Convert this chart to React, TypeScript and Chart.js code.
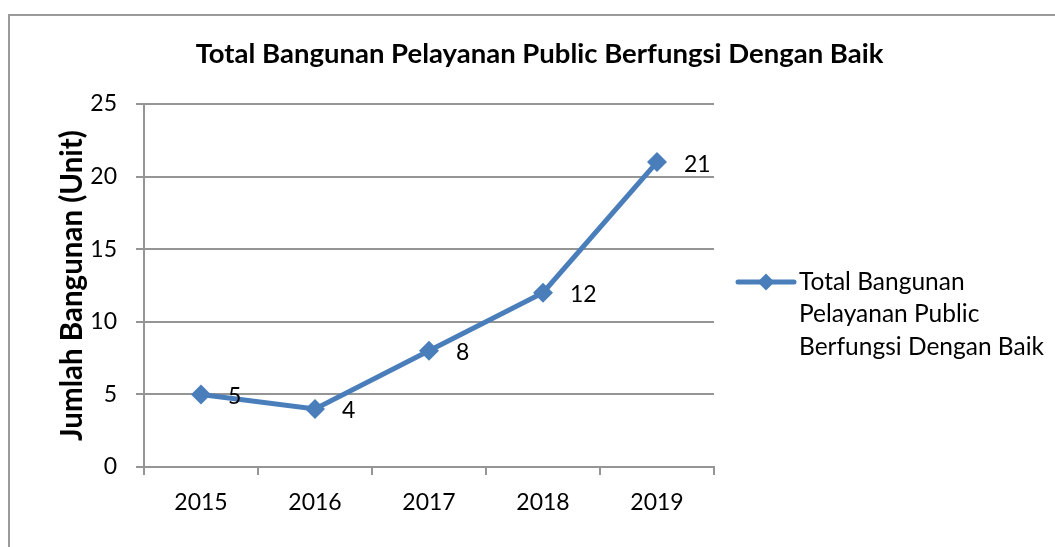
import React, { useEffect, useRef } from "react";
import { Chart, registerables } from "chart.js";

Chart.register(...registerables);

const categories = ["2015", "2016", "2017", "2018", "2019"];
const seriesValues = [5, 4, 8, 12, 21];
const seriesLabel = "Total Bangunan Pelayanan Public Berfungsi Dengan Baik";
const chartTitle = "Total Bangunan Pelayanan Public Berfungsi Dengan Baik";
const yAxisTitle = "Jumlah Bangunan (Unit)";
const yMin = 0;
const yMax = 25;
const yStep = 5;

const FONT = "Lato, 'Open Sans', sans-serif";
const LINE_COLOR = "#4A7EBB";
const GRID_COLOR = "#959595";

const framePlugin = {
  id: "frame",
  beforeDraw(chart: any) {
    const ctx = chart.ctx;
    ctx.save();
    ctx.fillStyle = "#ffffff";
    ctx.fillRect(0, 0, chart.width, chart.height);
    ctx.strokeStyle = "#9a9a9a";
    ctx.lineWidth = 2;
    ctx.strokeRect(9, 15, chart.width + 50, chart.height + 50);
    ctx.restore();
  },
};

const titlePlugin = {
  id: "customTitle",
  afterDraw(chart: any) {
    const ctx = chart.ctx;
    ctx.save();
    ctx.font = `bold 27.5px ${FONT}`;
    ctx.fillStyle = "#000";
    ctx.textAlign = "center";
    ctx.textBaseline = "middle";
    ctx.fillText(chartTitle, 539.5, 54);
    ctx.restore();
  },
};

const dataLabelPlugin = {
  id: "dataLabels",
  afterDatasetsDraw(chart: any) {
    const ctx = chart.ctx;
    const meta = chart.getDatasetMeta(0);
    ctx.save();
    ctx.font = `23px ${FONT}`;
    ctx.fillStyle = "#000";
    ctx.textAlign = "left";
    ctx.textBaseline = "middle";
    meta.data.forEach((pt: any, i: number) => {
      ctx.fillText(String(chart.data.datasets[0].data[i]), pt.x + 27, pt.y + 2);
    });
    ctx.restore();
  },
};

const legendPlugin = {
  id: "customLegend",
  afterDraw(chart: any) {
    const ctx = chart.ctx;
    const area = chart.chartArea;
    const lx0 = area.right + 24;
    const lx1 = area.right + 80;
    const ly = 282;
    ctx.save();
    ctx.strokeStyle = LINE_COLOR;
    ctx.lineWidth = 5;
    ctx.lineCap = "round";
    ctx.beginPath();
    ctx.moveTo(lx0, ly);
    ctx.lineTo(lx1, ly);
    ctx.stroke();
    const cx = (lx0 + lx1) / 2;
    const r = 8.5;
    ctx.fillStyle = LINE_COLOR;
    ctx.beginPath();
    ctx.moveTo(cx - r, ly);
    ctx.lineTo(cx, ly - r);
    ctx.lineTo(cx + r, ly);
    ctx.lineTo(cx, ly + r);
    ctx.closePath();
    ctx.fill();

    ctx.font = `24.5px ${FONT}`;
    ctx.fillStyle = "#000";
    ctx.textAlign = "left";
    ctx.textBaseline = "middle";
    const label = chart.data.datasets[0].label as string;
    const words = label.split(" ");
    const maxW = 262;
    const lines: string[] = [];
    let cur = "";
    words.forEach((w) => {
      const test = cur ? cur + " " + w : w;
      if (ctx.measureText(test).width > maxW && cur) {
        lines.push(cur);
        cur = w;
      } else {
        cur = test;
      }
    });
    if (cur) lines.push(cur);
    lines.forEach((ln, i) => {
      ctx.fillText(ln, lx1 + 5, ly + i * 32.5);
    });
    ctx.restore();
  },
};

export default function App() {
  const ref = useRef<HTMLCanvasElement | null>(null);
  useEffect(() => {
    if (!ref.current) return;
    const chart = new Chart(ref.current, {
      type: "line",
      data: {
        labels: categories,
        datasets: [
          {
            label: seriesLabel,
            data: seriesValues,
            borderColor: LINE_COLOR,
            backgroundColor: LINE_COLOR,
            borderWidth: 5,
            tension: 0,
            pointStyle: "rectRot",
            pointRadius: 10,
            pointBackgroundColor: LINE_COLOR,
            pointBorderColor: LINE_COLOR,
            pointBorderWidth: 0,
            fill: false,
          },
        ],
      },
      options: {
        responsive: false,
        animation: false,
        layout: { padding: { top: 104, right: 341, bottom: 0, left: 0 } },
        plugins: {
          legend: { display: false },
          title: { display: false },
          tooltip: { enabled: false },
        },
        scales: {
          x: {
            type: "category",
            offset: true,
            grid: {
              offset: true,
              drawOnChartArea: false,
              drawTicks: true,
              tickLength: 8,
              color: GRID_COLOR,
              lineWidth: 2,
            },
            border: { display: true, color: GRID_COLOR, width: 2 },
            ticks: {
              color: "#000",
              font: { family: FONT, size: 23 },
              padding: 14,
              maxRotation: 0,
            },
            afterFit(scale: any) {
              scale.height = 80;
            },
          },
          y: {
            min: yMin,
            max: yMax,
            ticks: {
              stepSize: yStep,
              color: "#000",
              font: { family: FONT, size: 23 },
              padding: 19,
            },
            grid: {
              color: GRID_COLOR,
              lineWidth: 2,
              tickLength: 8,
              drawTicks: true,
            },
            border: { display: true, color: GRID_COLOR, width: 2 },
            title: {
              display: true,
              text: yAxisTitle,
              color: "#000",
              font: { family: FONT, size: 29.5, weight: "bold" },
              padding: { top: 55, bottom: 0 },
            },
            afterFit(scale: any) {
              scale.width = 144;
            },
          },
        },
      },
      plugins: [framePlugin, titlePlugin, dataLabelPlugin, legendPlugin],
    } as any);
    return () => chart.destroy();
  }, []);
  return (
    <canvas
      ref={ref}
      width={1055}
      height={547}
      style={{ position: "absolute", left: 0, top: 0, display: "block" }}
    />
  );
}
